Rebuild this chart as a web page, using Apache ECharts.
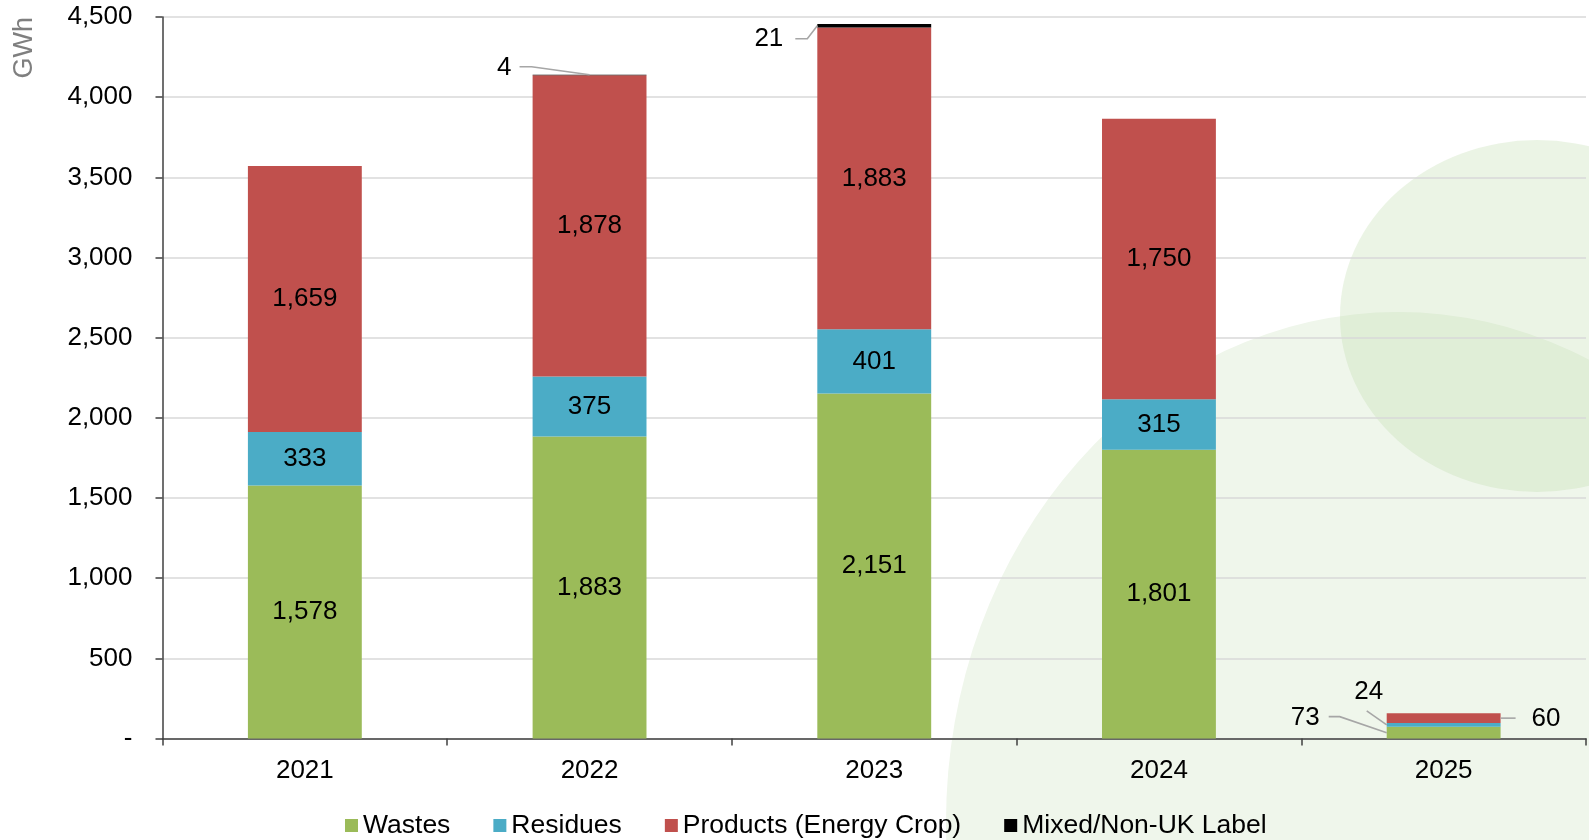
<!DOCTYPE html>
<html>
<head>
<meta charset="utf-8">
<script src="https://cdn.jsdelivr.net/npm/echarts@6/dist/echarts.min.js"></script>
<style>
html,body{margin:0;padding:0;background:#fff;}
#chart{width:1589px;height:840px;}
</style>
</head>
<body>
<div id="chart"></div>
<script>
// ---- data ----
const years = ['2021', '2022', '2023', '2024', '2025'];
const wastes = [1578, 1883, 2151, 1801, 73];
const residues = [333, 375, 401, 315, 24];
const products = [1659, 1878, 1883, 1750, 60];
const mixed = [0, 4, 21, 0, 0];
const seriesNames = ['Wastes', 'Residues', 'Products (Energy Crop)', 'Mixed/Non-UK Label'];
const yTicks = { min: 0, max: 4500, interval: 500 };

// ---- styles / layout (not data) ----
const FONT = "'Liberation Sans', Arial, sans-serif";
const colors = ['#9bbb59', '#4bacc6', '#c0504d', '#000000'];
const seriesValues = [wastes, residues, products, mixed];
const insideLabelMin = 200;   // segments smaller than this get a callout instead
// callouts: which segment, where the leader attaches and pixel offsets of the leader/text
const callouts = [
  { year: '2022', s: 3, anchor: 'top',   pts: [[-58, -8], [-70, -8]], text: [-78, -7], align: 'right' },
  { year: '2023', s: 3, anchor: 'left',  pts: [[-10, 13], [-22, 13]], text: [-34, 13], align: 'right' },
  { year: '2025', s: 1, anchor: 'left',  pts: [[-20, -14]],           text: [-18, -33], align: 'center' },
  { year: '2025', s: 0, anchor: 'left',  pts: [[-47, -16], [-58, -16]], text: [-67, -15], align: 'right' },
  { year: '2025', s: 2, anchor: 'right', pts: [[15, 0]],              text: [31, 1], align: 'left' }
];

const fmt = v => v.toLocaleString('en-US');

const barSeries = seriesNames.map((name, si) => ({
  name: name,
  type: 'bar',
  stack: 'total',
  barWidth: '40%',
  itemStyle: { color: colors[si] },
  label: {
    show: true, position: 'inside', color: '#000', fontSize: 26, fontFamily: FONT,
    formatter: p => fmt(p.value)
  },
  emphasis: { disabled: true },
  data: seriesValues[si].map(v => ({ value: v, label: { show: si < 3 && v >= insideLabelMin } }))
}));

// callout data built from the arrays: [categoryIndex, segmentBottom, segmentTop, calloutIndex]
const calloutData = callouts.map((c, ci) => {
  const idx = years.indexOf(c.year);
  let bottom = 0;
  for (let k = 0; k < c.s; k++) bottom += seriesValues[k][idx];
  const top = bottom + seriesValues[c.s][idx];
  return [idx, bottom, top, ci];
});

const calloutSeries = {
  type: 'custom',
  name: 'callouts',
  silent: true,
  z: 5,
  encode: { x: 0, y: 2 },
  data: calloutData,
  renderItem: function (params, api) {
    const cat = api.value(0);
    const c = callouts[api.value(3)];
    const x = api.coord([cat, 0])[0];
    const yb = api.coord([cat, api.value(1)])[1];
    const yt = api.coord([cat, api.value(2)])[1];
    const half = api.size([1, 0])[0] * 0.2;
    let ax, ay;
    if (c.anchor === 'top') { ax = x; ay = yt; }
    else if (c.anchor === 'left') { ax = x - half; ay = (yb + yt) / 2; }
    else { ax = x + half; ay = (yb + yt) / 2; }
    const points = [[ax, ay]].concat(c.pts.map(p => [ax + p[0], ay + p[1]]));
    const val = seriesValues[c.s][cat];
    return {
      type: 'group',
      children: [
        { type: 'polyline', shape: { points: points },
          style: { stroke: '#a6a6a6', lineWidth: 1.6, fill: null } },
        { type: 'text', x: ax + c.text[0], y: ay + c.text[1],
          style: { text: fmt(val), fill: '#000', fontSize: 26, fontFamily: FONT,
                   align: c.align, verticalAlign: 'middle' } }
      ]
    };
  }
};

const chart = echarts.init(document.getElementById('chart'), null, { renderer: 'canvas' });
chart.setOption({
  animation: false,
  backgroundColor: '#ffffff',
  textStyle: { fontFamily: FONT },
  graphic: [
    { type: 'circle', z: -10, silent: true, x: 1398, y: 822, scaleX: 452, scaleY: 510,
      shape: { cx: 0, cy: 0, r: 1 }, style: { fill: '#eff6eb' } },
    { type: 'circle', z: -9, silent: true, x: 1537, y: 316, scaleX: 197, scaleY: 176,
      shape: { cx: 0, cy: 0, r: 1 }, style: { fill: 'rgba(190,220,170,0.30)' } },
    { type: 'text', left: 11, top: 17, rotation: Math.PI / 2, silent: true,
      style: { text: 'GWh', fill: '#7f7f7f', fontSize: 27, fontFamily: FONT } }
  ],
  grid: { left: 162.5, right: 3, top: 17, bottom: 101.5, containLabel: false },
  legend: {
    data: seriesNames,
    left: 340, top: 807,
    icon: 'rect', itemWidth: 13, itemHeight: 13, itemGap: 43,
    textStyle: { color: '#000', fontSize: 26.5, fontFamily: FONT },
    selectedMode: false
  },
  xAxis: {
    type: 'category',
    data: years,
    axisLine: { show: true, lineStyle: { color: '#404040', width: 1.5 } },
    axisTick: { show: true, length: 7, inside: false, lineStyle: { color: '#404040', width: 1.5 } },
    axisLabel: { color: '#000', fontSize: 26, fontFamily: FONT, margin: 19 },
    splitLine: { show: false }
  },
  yAxis: {
    type: 'value',
    min: yTicks.min, max: yTicks.max, interval: yTicks.interval,
    axisLine: { show: true, lineStyle: { color: '#404040', width: 1.5 } },
    axisTick: { show: true, length: 7, lineStyle: { color: '#404040', width: 1.5 } },
    axisLabel: { color: '#000', fontSize: 26, fontFamily: FONT, margin: 30,
      formatter: v => v === 0 ? '-' : fmt(v) },
    splitLine: { show: true, lineStyle: { color: '#d9d9d9', width: 1.5 } }
  },
  series: barSeries.concat([calloutSeries])
});
</script>
</body>
</html>
